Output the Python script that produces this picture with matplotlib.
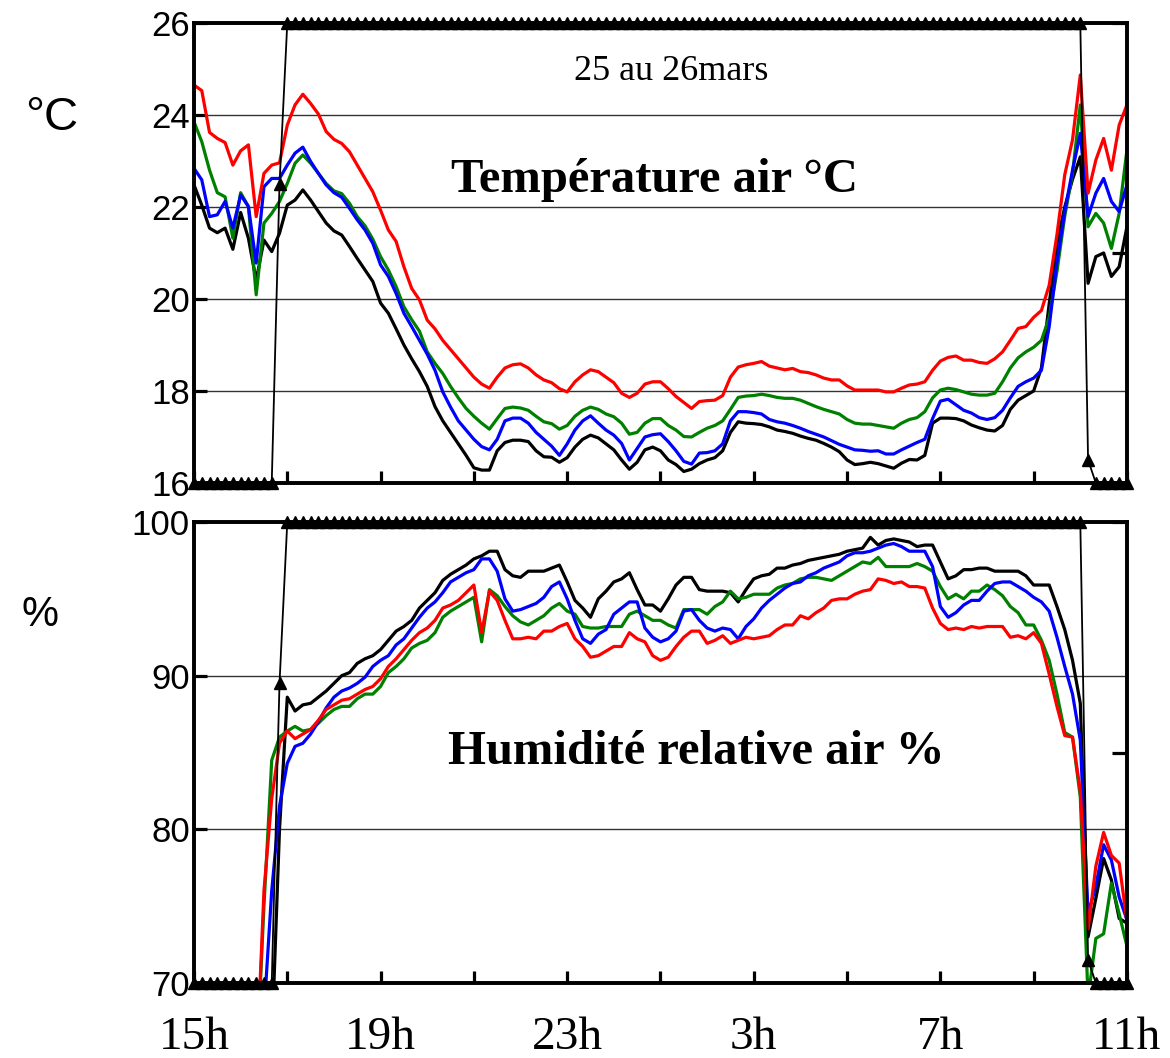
import numpy as np
import matplotlib
matplotlib.use("Agg")
import matplotlib.pyplot as plt

# ---------------- data (10-minute steps from 15h on 25 March to 11h on 26 March) ----------------
hour_labels = ['15h', '19h', '23h', '3h', '7h', '11h']
temp_ticks = [16, 18, 20, 22, 24, 26]
hum_ticks = [70, 80, 90, 100]

temp_red = [
    24.65, 24.53, 23.62, 23.49, 23.40, 22.91, 23.22, 23.35, 21.79, 22.73,
    22.91, 22.96, 23.78, 24.22, 24.45, 24.25, 24.02, 23.64, 23.47, 23.38,
    23.20, 22.91, 22.62, 22.33, 21.93, 21.50, 21.25, 20.70, 20.23, 19.98,
    19.54, 19.35, 19.10, 18.90, 18.70, 18.50, 18.30, 18.15, 18.06, 18.30,
    18.50, 18.57, 18.59, 18.50, 18.35, 18.24, 18.18, 18.05, 17.98, 18.20,
    18.35, 18.46, 18.42, 18.30, 18.18, 17.95, 17.86, 17.95, 18.15, 18.20,
    18.20, 18.05, 17.88, 17.75, 17.62, 17.77, 17.79, 17.80, 17.90, 18.30,
    18.52, 18.57, 18.60, 18.64, 18.54, 18.50, 18.46, 18.49, 18.42, 18.40,
    18.35, 18.28, 18.24, 18.24, 18.11, 18.02, 18.02, 18.02, 18.02, 17.98,
    17.98, 18.06, 18.13, 18.15, 18.20, 18.45, 18.65, 18.73, 18.76, 18.67,
    18.67, 18.62, 18.60, 18.70, 18.85, 19.10, 19.36, 19.40, 19.60, 19.75,
    20.30, 21.40, 22.70, 23.46, 24.87, 22.30, 23.02, 23.49, 22.80, 23.78,
    24.22]
temp_green = [
    23.85, 23.42, 22.80, 22.31, 22.22, 21.32, 22.31, 22.01, 20.09, 21.65,
    21.86, 22.12, 22.51, 22.95, 23.13, 22.95, 22.73, 22.51, 22.35, 22.29,
    22.08, 21.79, 21.59, 21.30, 20.92, 20.63, 20.27, 19.83, 19.55, 19.30,
    18.85, 18.60, 18.38, 18.10, 17.85, 17.62, 17.45, 17.30, 17.17, 17.40,
    17.62, 17.65, 17.63, 17.58, 17.45, 17.33, 17.29, 17.17, 17.25, 17.45,
    17.58, 17.65, 17.60, 17.50, 17.44, 17.30, 17.06, 17.10, 17.30, 17.40,
    17.40, 17.25, 17.15, 17.01, 17.00, 17.10, 17.19, 17.25, 17.35, 17.60,
    17.86, 17.89, 17.90, 17.93, 17.90, 17.86, 17.84, 17.84, 17.80, 17.73,
    17.66, 17.60, 17.55, 17.50, 17.38, 17.30, 17.28, 17.28, 17.25, 17.22,
    17.19, 17.30, 17.38, 17.42, 17.55, 17.85, 18.02, 18.06, 18.03, 17.98,
    17.93, 17.91, 17.91, 17.95, 18.20, 18.50, 18.72, 18.85, 18.95, 19.10,
    19.60, 20.60, 21.80, 22.73, 24.22, 21.57, 21.86, 21.65, 21.10, 21.86,
    23.24]
temp_blue = [
    22.84, 22.59, 21.79, 21.83, 22.12, 21.54, 22.26, 22.01, 20.78, 22.44,
    22.62, 22.62, 22.91, 23.17, 23.30, 22.99, 22.73, 22.48, 22.31, 22.21,
    21.97, 21.72, 21.50, 21.21, 20.74, 20.49, 20.12, 19.69, 19.40, 19.10,
    18.80, 18.45, 17.98, 17.65, 17.35, 17.15, 16.95, 16.79, 16.72, 16.95,
    17.35, 17.41, 17.41, 17.30, 17.10, 16.95, 16.80, 16.60, 16.85, 17.15,
    17.35, 17.46, 17.30, 17.15, 17.04, 16.86, 16.50, 16.75, 17.00, 17.05,
    17.07, 16.90, 16.70, 16.47, 16.41, 16.65, 16.66, 16.70, 16.85, 17.35,
    17.55, 17.55, 17.53, 17.50, 17.38, 17.33, 17.30, 17.25, 17.19, 17.12,
    17.06, 17.00, 16.92, 16.84, 16.78, 16.72, 16.71, 16.69, 16.70, 16.63,
    16.63, 16.72, 16.80, 16.88, 16.95, 17.40, 17.78, 17.82, 17.70, 17.58,
    17.52, 17.42, 17.38, 17.42, 17.58, 17.85, 18.10, 18.20, 18.28, 18.45,
    19.40, 20.80, 21.90, 22.80, 23.60, 21.79, 22.30, 22.62, 22.12, 21.90,
    22.48]
temp_black = [
    22.48, 22.04, 21.54, 21.44, 21.54, 21.08, 21.88, 21.32, 20.40, 21.28,
    21.03, 21.43, 22.04, 22.15, 22.37, 22.15, 21.90, 21.65, 21.48, 21.39,
    21.14, 20.88, 20.63, 20.38, 19.91, 19.69, 19.35, 19.00, 18.70, 18.42,
    18.10, 17.66, 17.35, 17.10, 16.85, 16.60, 16.33, 16.28, 16.28, 16.70,
    16.88, 16.93, 16.93, 16.90, 16.70, 16.57, 16.56, 16.45, 16.55, 16.78,
    16.95, 17.04, 16.98, 16.85, 16.72, 16.50, 16.30, 16.45, 16.72, 16.78,
    16.70, 16.50, 16.40, 16.25, 16.30, 16.42, 16.50, 16.55, 16.70, 17.10,
    17.33, 17.30, 17.29, 17.27, 17.22, 17.15, 17.12, 17.08, 17.02, 16.97,
    16.93, 16.86, 16.78, 16.68, 16.50, 16.40, 16.42, 16.45, 16.42, 16.37,
    16.32, 16.43, 16.51, 16.50, 16.60, 17.30, 17.41, 17.41, 17.40, 17.35,
    17.26, 17.20, 17.15, 17.13, 17.25, 17.60, 17.80, 17.90, 18.00, 18.50,
    19.90, 21.20, 22.00, 22.60, 23.09, 20.34, 20.92, 21.00, 20.49, 20.70,
    21.57]

hum_red = [
    64, 64, 64, 64, 64, 64, 64, 64, 64, 76,
    82.0, 85.6, 86.4, 85.9, 86.2, 86.5, 87.1, 87.8, 88.1, 88.4,
    88.5, 88.8, 89.1, 89.3, 89.8, 90.6, 91.1, 91.7, 92.3, 92.8,
    93.1, 93.6, 94.4, 94.6, 94.9, 95.4, 95.9, 92.8, 95.5, 94.9,
    93.6, 92.4, 92.4, 92.5, 92.4, 92.9, 92.9, 93.2, 93.4, 92.4,
    91.9, 91.2, 91.3, 91.6, 91.9, 91.9, 92.8, 92.4, 92.2, 91.3,
    91.0, 91.2, 91.9, 92.5, 92.9, 92.9, 92.1, 92.3, 92.6, 92.1,
    92.3, 92.5, 92.4, 92.5, 92.6, 93.0, 93.3, 93.3, 93.9, 93.7,
    94.1, 94.4, 94.9, 95.0, 95.0, 95.3, 95.5, 95.6, 96.3, 96.2,
    96.0, 96.1, 95.8, 95.8, 95.7, 94.4, 93.4, 93.0, 93.1, 93.0,
    93.2, 93.1, 93.2, 93.2, 93.2, 92.5, 92.6, 92.4, 92.8, 92.1,
    90.1, 88.0, 86.1, 86.0, 82.5, 73.5, 77.6, 79.8, 78.3, 77.8,
    74.0]
hum_green = [
    64, 64, 64, 64, 64, 64, 64, 64, 64, 75,
    84.5, 86.0, 86.4, 86.7, 86.4, 86.5, 86.9, 87.4, 87.8, 88.0,
    88.0, 88.5, 88.8, 88.8, 89.3, 90.2, 90.6, 91.1, 91.8, 92.1,
    92.3, 92.8, 93.8, 94.2, 94.5, 94.8, 95.1, 92.2, 95.6, 95.2,
    94.5, 93.9, 93.5, 93.3, 93.6, 93.9, 94.4, 94.7, 94.2, 94.0,
    93.2, 93.1, 93.1, 93.2, 93.2, 93.2, 94.0, 94.2, 93.9, 93.6,
    93.6, 93.3, 93.1, 94.3, 94.3, 94.3, 94.0, 94.5, 94.8, 95.5,
    95.0, 95.1, 95.3, 95.3, 95.3, 95.7, 95.9, 96.0, 96.3, 96.4,
    96.4, 96.3, 96.2, 96.5, 96.8, 97.1, 97.4, 97.3, 97.7, 97.1,
    97.1, 97.1, 97.1, 97.3, 97.1, 96.8, 95.8, 95.0, 95.3, 95.0,
    95.5, 95.5, 95.9, 95.6, 95.2, 94.5, 94.1, 93.3, 93.3, 92.3,
    91.0, 88.8, 86.3, 86.0, 82.1, 69.0, 72.9, 73.2, 76.5, 74.5,
    72.4]
hum_blue = [
    64, 64, 64, 64, 64, 64, 64, 64, 64, 68,
    76.0, 81.5, 84.3, 85.4, 85.6, 86.2, 87.0, 87.9, 88.6, 89.0,
    89.2, 89.5, 89.9, 90.6, 91.0, 91.3, 92.0, 92.4, 93.1, 93.8,
    94.4, 94.8, 95.4, 96.1, 96.4, 96.7, 96.9, 97.6, 97.6, 96.8,
    95.0, 94.2, 94.3, 94.5, 94.7, 95.1, 95.8, 96.1, 95.0, 93.6,
    92.4, 92.1, 92.7, 93.0, 94.0, 94.4, 94.8, 94.8, 93.1, 92.5,
    92.2, 92.4, 92.9, 94.2, 94.3, 93.6, 93.1, 92.9, 93.1, 93.0,
    92.4, 93.2, 93.7, 94.4, 94.9, 95.3, 95.7, 96.0, 96.1, 96.5,
    96.7, 97.0, 97.2, 97.4, 97.8, 98.0, 98.0, 98.1, 98.3, 98.5,
    98.6, 98.4, 98.1, 98.1, 98.1, 97.1, 94.5, 93.8, 94.1, 94.6,
    94.9, 94.9, 95.5, 96.0, 96.1, 96.1, 95.8, 95.5, 95.1, 94.8,
    94.2, 92.5, 90.6, 88.8, 85.8, 74.5, 76.3, 79.0, 78.0, 75.6,
    74.1]
hum_black = [
    62, 62, 62, 62, 62, 62, 62, 62, 62, 62,
    66.0, 80.0, 88.6, 87.7, 88.1, 88.2, 88.6, 89.0, 89.5, 90.0,
    90.2, 90.8, 91.1, 91.3, 91.7, 92.3, 92.9, 93.2, 93.6, 94.4,
    94.9, 95.4, 96.2, 96.6, 96.9, 97.2, 97.6, 97.8, 98.1, 98.1,
    96.9, 96.5, 96.4, 96.8, 96.8, 96.8, 97.0, 97.2, 96.1, 94.9,
    94.4, 93.8, 95.0, 95.5, 96.1, 96.3, 96.7, 95.6, 94.6, 94.6,
    94.2, 95.0, 95.9, 96.4, 96.4, 95.6, 95.5, 95.5, 95.5, 95.4,
    94.8, 95.6, 96.3, 96.5, 96.6, 97.0, 97.0, 97.2, 97.3, 97.5,
    97.6, 97.7, 97.8, 97.9, 98.1, 98.2, 98.3, 99.0, 98.5, 98.8,
    98.9, 98.8, 98.7, 98.4, 98.5, 98.5, 97.4, 96.3, 96.5, 96.9,
    96.9, 97.0, 97.0, 96.8, 96.8, 96.8, 96.8, 96.5, 95.9, 95.9,
    95.9, 94.5, 93.0, 91.0, 88.2, 73.0, 75.5, 78.1, 76.7, 74.2,
    73.9]

# on/off signal (secondary axis, 0..1)
signal = [
    0, 0, 0, 0, 0, 0, 0, 0, 0, 0,
    0, 0.65, 1, 1, 1, 1, 1, 1, 1, 1,
    1, 1, 1, 1, 1, 1, 1, 1, 1, 1,
    1, 1, 1, 1, 1, 1, 1, 1, 1, 1,
    1, 1, 1, 1, 1, 1, 1, 1, 1, 1,
    1, 1, 1, 1, 1, 1, 1, 1, 1, 1,
    1, 1, 1, 1, 1, 1, 1, 1, 1, 1,
    1, 1, 1, 1, 1, 1, 1, 1, 1, 1,
    1, 1, 1, 1, 1, 1, 1, 1, 1, 1,
    1, 1, 1, 1, 1, 1, 1, 1, 1, 1,
    1, 1, 1, 1, 1, 1, 1, 1, 1, 1,
    1, 1, 1, 1, 1, 0.05, 0, 0, 0, 0,
    0]

t = np.arange(len(temp_red)) / 6.0   # hours since 15h

# ---------------- styling ----------------
SANS = ['Liberation Sans', 'DejaVu Sans']
SERIF = ['Liberation Serif', 'DejaVu Serif']
plt.rcParams['font.family'] = SANS

fig = plt.figure(figsize=(11.7, 10.58), dpi=100)
ax1 = fig.add_axes([0.1658, 0.5435, 0.7974, 0.4348])
ax2 = fig.add_axes([0.1658, 0.0709, 0.7974, 0.4357])

colors = {'black': '#000000', 'green': '#008000', 'blue': '#0000FF', 'red': '#FF0000'}
LW = 2.3

def style(ax, yticks, ylim, show_x):
    ax.set_xlim(0, 20)
    ax.set_ylim(*ylim)
    ax.set_yticks(yticks)
    ax.set_yticklabels([str(v) for v in yticks], fontsize=25, family=SANS)
    ax.set_xticks(np.arange(0, 21, 2))
    labs = []
    k = 0
    for v in np.arange(0, 21, 2):
        if v % 4 == 0:
            labs.append(hour_labels[k]); k += 1
        else:
            labs.append('')
    ax.set_xticklabels(labs, fontsize=34, family=SERIF)
    ax.tick_params(axis='both', direction='in', length=9, width=2.3, colors='black')
    ax.tick_params(axis='y', pad=3)
    ax.tick_params(axis='x', pad=24, labelbottom=show_x)
    ax.yaxis.grid(True, color='#333333', linewidth=1.0)
    ax.set_axisbelow(True)
    for s in ax.spines.values():
        s.set_linewidth(2.6)
        s.set_color('black')

# temperature panel
ax1.plot(t, temp_black, color=colors['black'], lw=LW)
ax1.plot(t, temp_green, color=colors['green'], lw=LW)
ax1.plot(t, temp_blue, color=colors['blue'], lw=LW)
ax1.plot(t, temp_red, color=colors['red'], lw=LW)
style(ax1, temp_ticks, (16, 26), False)

# humidity panel
ax2.plot(t, hum_black, color=colors['black'], lw=LW)
ax2.plot(t, hum_green, color=colors['green'], lw=LW)
ax2.plot(t, hum_blue, color=colors['blue'], lw=LW)
ax2.plot(t, hum_red, color=colors['red'], lw=LW)
style(ax2, hum_ticks, (70, 100), True)

# secondary axis with on/off signal
for ax in (ax1, ax2):
    tw = ax.twinx()
    tw.set_ylim(0, 1)
    tw.set_yticks([0, 0.5, 1])
    tw.tick_params(axis='y', direction='in', length=11, width=2.3, labelright=False)
    for s in tw.spines.values():
        s.set_linewidth(2.6)
    tw.plot(t, signal, color='black', lw=1.3, marker='^', markersize=8,
            markerfacecolor='black', markeredgecolor='black', clip_on=False, zorder=5)

# texts
ax1.text(0.511, 0.895, '25 au 26mars', transform=ax1.transAxes, ha='center', va='center',
         fontsize=26, family=SERIF)
ax1.text(0.494, 0.659, 'Température air °C', transform=ax1.transAxes, ha='center', va='center',
         fontsize=35, family=SERIF, fontweight='bold')
ax2.text(0.538, 0.501, 'Humidité relative air %', transform=ax2.transAxes, ha='center', va='center',
         fontsize=35, family=SERIF, fontweight='bold')
fig.text(52 / 1170, 1 - 118 / 1058, '°C', ha='center', va='center', fontsize=34, family=SANS)
fig.text(40 / 1170, 1 - 615 / 1058, '%', ha='center', va='center', fontsize=30, family=SANS)

fig.savefig('out.png', dpi=100)
